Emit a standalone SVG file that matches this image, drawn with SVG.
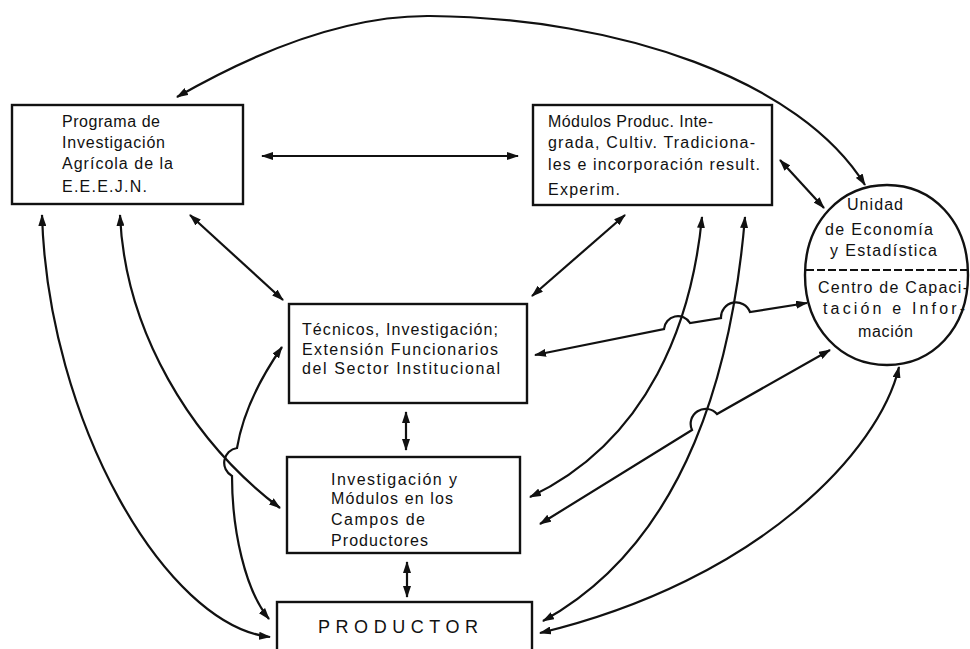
<svg xmlns="http://www.w3.org/2000/svg" width="970" height="649" viewBox="0 0 970 649">
<defs>
<style>
.box{fill:#fff;stroke:#111;stroke-width:2.4}
.t{font-family:"Liberation Sans",Arial,sans-serif;font-size:16px;fill:#111}
.c{fill:none;stroke:#111;stroke-width:2.2;marker-start:url(#ah);marker-end:url(#ah)}
</style>
<marker id="ah" viewBox="0 0 12 8" refX="11" refY="4" markerWidth="12" markerHeight="8" markerUnits="userSpaceOnUse" orient="auto-start-reverse">
<path d="M0,0 L12,4 L0,8 z" fill="#111"/>
</marker>
</defs>
<rect width="970" height="649" fill="#fff"/>

<g id="programa">
<rect class="box" x="12" y="105" width="231" height="99"/>
<text class="t" x="62" y="127" textLength="98" lengthAdjust="spacing">Programa de</text>
<text class="t" x="62" y="148" textLength="103" lengthAdjust="spacing">Investigación</text>
<text class="t" x="62" y="169" textLength="111" lengthAdjust="spacing">Agrícola de la</text>
<text class="t" x="62" y="192" textLength="85" lengthAdjust="spacing">E.E.E.J.N.</text>
</g>

<g id="modulos">
<rect class="box" x="533" y="105" width="239" height="100"/>
<text class="t" x="548" y="127" textLength="165" lengthAdjust="spacing">Módulos Produc. Inte-</text>
<text class="t" x="548" y="148" textLength="207" lengthAdjust="spacing">grada, Cultiv. Tradiciona-</text>
<text class="t" x="548" y="170" textLength="212" lengthAdjust="spacing">les e incorporación result.</text>
<text class="t" x="548" y="195" textLength="72" lengthAdjust="spacing">Experim.</text>
</g>

<g id="unidad">
<path class="box" d="M805,275 C805,221 841.8,185 887,185 C932.2,185 968,221 968,275 C968,329 932.2,365 887,365 C841.8,365 805,329 805,275 Z"/>
<line x1="806" y1="270" x2="967" y2="270" stroke="#111" stroke-width="2" stroke-dasharray="8,3"/>
<text class="t" x="847" y="210" textLength="56" lengthAdjust="spacing">Unidad</text>
<text class="t" x="825" y="235" textLength="108" lengthAdjust="spacing">de Economía</text>
<text class="t" x="830" y="256" textLength="107" lengthAdjust="spacing">y  Estadística</text>
<text class="t" x="818" y="293" textLength="150" lengthAdjust="spacing">Centro de Capaci-</text>
<text class="t" x="823" y="314" textLength="142" lengthAdjust="spacing">tación  e  Infor-</text>
<text class="t" x="858" y="337" textLength="55" lengthAdjust="spacing">mación</text>
</g>

<g id="tecnicos">
<rect class="box" x="289" y="304" width="238" height="99"/>
<text class="t" x="302" y="335" textLength="196" lengthAdjust="spacing">Técnicos, Investigación;</text>
<text class="t" x="302" y="355" textLength="196" lengthAdjust="spacing">Extensión  Funcionarios</text>
<text class="t" x="302" y="374" textLength="198" lengthAdjust="spacing">del  Sector  Institucional</text>
</g>

<g id="investigacion">
<rect class="box" x="287" y="457" width="233" height="96"/>
<text class="t" x="331" y="485" textLength="126" lengthAdjust="spacing">Investigación  y</text>
<text class="t" x="331" y="504" textLength="122" lengthAdjust="spacing">Módulos en los</text>
<text class="t" x="331" y="525" textLength="94" lengthAdjust="spacing">Campos  de</text>
<text class="t" x="331" y="546" textLength="97" lengthAdjust="spacing">Productores</text>
</g>

<g id="productor">
<rect class="box" x="277" y="602" width="255" height="60"/>
<text class="t" x="318" y="633" style="font-size:18px" textLength="160" lengthAdjust="spacing">PRODUCTOR</text>
</g>

<g id="connectors">
<path class="c" d="M177,97 Q320,15 430,16 C620,18 800,80 865,185"/>
<path class="c" d="M262,156 L518,156"/>
<path class="c" d="M780,160 L824,208"/>
<path class="c" d="M190,215 L283,300"/>
<path class="c" d="M625,215 L532,296"/>
<path class="c" d="M406,412 L406,450"/>
<path class="c" d="M407,562 L407,597"/>
<path class="c" d="M42,215 C48,420 165,625 270,637"/>
<path class="c" d="M120,215 C125,330 190,440 280,508"/>
<path class="c" d="M282,347 Q245,400 237,448 A15 15 0 0 0 232,476 C232,530 245,590 269,619"/>
<path class="c" d="M702,217 C692,320 650,440 530,497"/>
<path class="c" d="M745,217 C733,360 690,540 543,621"/>
<path class="c" d="M535,355 L664,329 A14 14 0 0 1 690,323 L721,318 A15 15 0 0 1 750,312 L807,303"/>
<path class="c" d="M830,350 L717,414 A15 15 0 0 0 692,430 L540,524"/>
<path class="c" d="M899,367 C880,450 760,580 540,633"/>
</g>
</svg>
